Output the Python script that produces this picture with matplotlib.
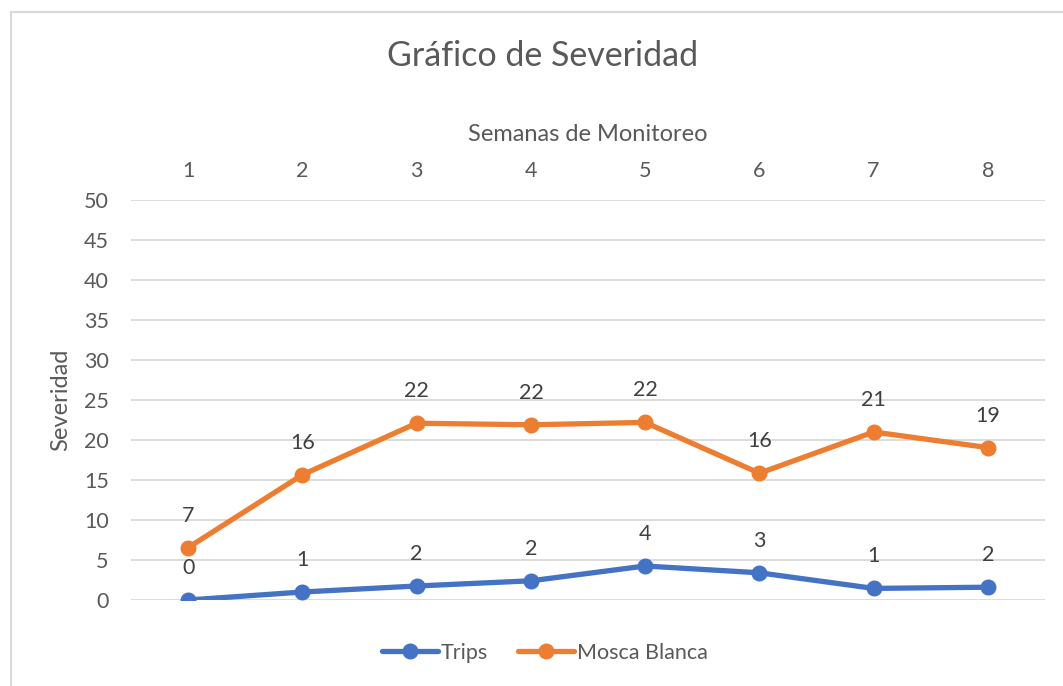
import matplotlib
matplotlib.use("Agg")
import matplotlib.pyplot as plt
from matplotlib.patches import Rectangle

plt.rcParams['font.family'] = ['Lato', 'DejaVu Sans']

semanas = ["1", "2", "3", "4", "5", "6", "7", "8"]
trips = [0.0, 1.0, 1.75, 2.4, 4.25, 3.4, 1.45, 1.6]
mosca = [6.55, 15.65, 22.1, 21.9, 22.2, 15.85, 21.0, 19.05]
yticks = [0, 5, 10, 15, 20, 25, 30, 35, 40, 45, 50]

W, H = 1063, 686
fig = plt.figure(figsize=(W / 100, H / 100), dpi=100)
fig.patch.set_facecolor("white")

# outer chart border
fig.patches.append(Rectangle((10.5 / W, -0.1), 1.2, (H - 12.5) / H + 0.1,
                             transform=fig.transFigure, fill=False,
                             edgecolor="#D9D9D9", linewidth=1.5))

left, right, top, bottom = 131, 1045, 200, 600
ax = fig.add_axes([left / W, 1 - bottom / H, (right - left) / W, (bottom - top) / H])

x = list(range(len(semanas)))
blue = "#4472C4"
orange = "#ED7D31"
ax.plot(x, trips, color=blue, lw=3.8, marker="o", ms=10.5, label="Trips", zorder=3,
        solid_capstyle="round")
ax.plot(x, mosca, color=orange, lw=3.8, marker="o", ms=10.5, label="Mosca Blanca", zorder=3,
        solid_capstyle="round")

fs = 15.5
for xi, v in zip(x, trips):
    ax.annotate(f"{v:.0f}", (xi, v), xytext=(0, 23), textcoords="offset points",
                ha="center", va="center", fontsize=fs, color="#404040")
for xi, v in zip(x, mosca):
    ax.annotate(f"{v:.0f}", (xi, v), xytext=(0, 23), textcoords="offset points",
                ha="center", va="center", fontsize=fs, color="#404040")

ax.set_xlim(-0.5, len(semanas) - 0.5)
ax.set_ylim(0, 50)
ax.set_yticks(yticks)
ax.set_xticks(x)
ax.set_xticklabels(semanas)
ax.xaxis.tick_top()
ax.xaxis.set_label_position("top")
ax.tick_params(axis="x", length=0, pad=14, labelsize=fs, labelcolor="#595959")
ax.tick_params(axis="y", length=0, pad=16, labelsize=fs, labelcolor="#595959")
ax.grid(axis="y", color="#D9D9D9", lw=1.3)
ax.set_axisbelow(True)
for s in ax.spines.values():
    s.set_visible(False)

ax.set_xlabel("Semanas de Monitoreo", fontsize=17, color="#595959", labelpad=14)
ax.set_ylabel("Severidad", fontsize=17, color="#595959", labelpad=9)

fig.text(543 / W, 1 - 56 / H, "Gráfico de Severidad", ha="center", va="center",
         fontsize=24.5, color="#595959")

leg = fig.legend(loc="center", bbox_to_anchor=(545 / W, 1 - 653 / H), ncol=2,
                 frameon=False, fontsize=15.5, handlelength=2.6, columnspacing=1.4,
                 handletextpad=0.15)
for t in leg.get_texts():
    t.set_color("#595959")

fig.savefig("out.png", dpi=100)
